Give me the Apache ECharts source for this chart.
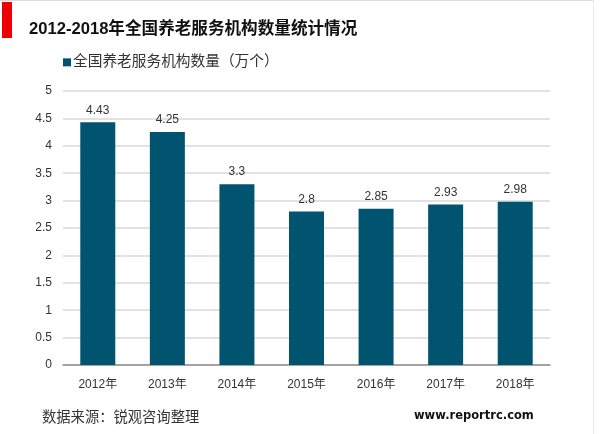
<!DOCTYPE html>
<html>
<head>
<meta charset="utf-8">
<style>
html, body {margin: 0; padding: 0; background: #fff;}
#chart {width: 600px; height: 434px;}
</style>
<script src="https://cdn.jsdelivr.net/npm/echarts@6/dist/echarts.min.js"></script>
</head>
<body>
<div id="chart"></div>
<script>
var years = ['2012年', '2013年', '2014年', '2015年', '2016年', '2017年', '2018年'];
var counts = [4.43, 4.25, 3.3, 2.8, 2.85, 2.93, 2.98];
var seriesName = '全国养老服务机构数量（万个）';
var titleText = '2012-2018年全国养老服务机构数量统计情况';
var sourceText = '数据来源：锐观咨询整理';
var siteText = 'www.reportrc.com';

var fontFamily = '"Liberation Sans", "Noto Sans CJK SC", sans-serif';
var chart = echarts.init(document.getElementById('chart'));

chart.setOption({
    animation: false,
    textStyle: {fontFamily: fontFamily},
    title: {
        text: titleText,
        left: 29,
        top: 21,
        padding: 0,
        textStyle: {fontSize: 16.6, fontWeight: 'bold', color: '#111', fontFamily: fontFamily}
    },
    legend: {
        data: [seriesName],
        left: 63,
        top: 55,
        padding: 0,
        icon: 'rect',
        itemWidth: 8,
        itemHeight: 8,
        itemGap: 4,
        textStyle: {fontSize: 14.7, color: '#333', padding: [0, 0, 0, -3]}
    },
    grid: {left: 63, right: 50, top: 91, bottom: 69},
    xAxis: {
        type: 'category',
        data: years,
        axisTick: {show: false},
        axisLine: {lineStyle: {color: '#8f8f8f', width: 1.5}},
        axisLabel: {fontSize: 12, color: '#333', margin: 14}
    },
    yAxis: {
        type: 'value',
        min: 0,
        max: 5,
        interval: 0.5,
        axisLine: {show: false},
        axisTick: {show: false},
        axisLabel: {fontSize: 12, color: '#333', margin: 11},
        splitLine: {lineStyle: {color: '#d9d9d9', width: 1.5}}
    },
    series: [{
        name: seriesName,
        type: 'bar',
        data: counts,
        barWidth: 35,
        itemStyle: {color: '#01546f'},
        label: {show: true, position: 'top', distance: 6, fontSize: 12, color: '#333'}
    }],
    graphic: [
        {type: 'rect', shape: {x: 2, y: 2, width: 10, height: 36}, style: {fill: '#ee0000'}},
        {type: 'rect', shape: {x: 0, y: 0, width: 593, height: 1}, style: {fill: '#dcdcdc'}},
        {type: 'rect', shape: {x: 593, y: 0, width: 1, height: 434}, style: {fill: '#ececec'}},
        {type: 'text', left: 42, top: 411, style: {text: sourceText, fontSize: 14.3, fill: '#333', fontFamily: fontFamily}},
        {type: 'text', left: 414, top: 410, style: {text: siteText, fontSize: 11.5, fontWeight: 'bold', fill: '#111', fontFamily: '"DejaVu Sans", sans-serif'}}
    ]
});
</script>
</body>
</html>
